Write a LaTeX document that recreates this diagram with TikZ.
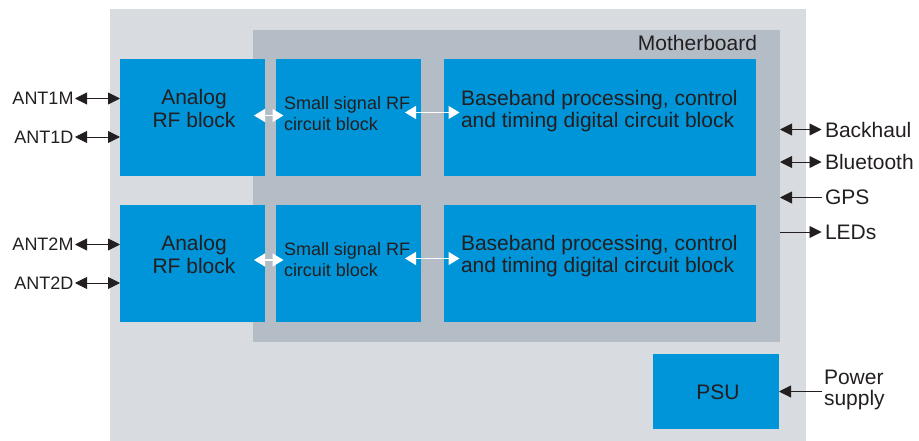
\documentclass[tikz,border=0pt]{standalone}
\usepackage{fontspec}
\setmainfont{Liberation Sans}
\usetikzlibrary{arrows.meta}
\definecolor{outerg}{RGB}{216,220,224}
\definecolor{mbg}{RGB}{180,189,198}
\definecolor{blk}{RGB}{0,148,216}
\definecolor{ink}{RGB}{35,31,32}
\newcommand{\twoL}[3]{\begin{tabular}[t]{@{}#1@{}}#2\\#3\end{tabular}}
\tikzset{
  panel/.style={draw=none, inner sep=0, outer sep=0, anchor=north west},
  blockbox/.style={panel, fill=blk},
  txt/.style={inner sep=0, outer sep=0, text=ink},
  lbl/.style={txt, font=\fontsize{18}{21}\selectfont},
  rlbl/.style={txt, font=\fontsize{21}{22}\selectfont},
  tip/.tip={Triangle[length=12pt,width=12pt]},
  wtip/.tip={Triangle[length=11pt,width=13pt]},
  bi/.style={draw=ink, line width=0.9pt, tip-tip},
  la/.style={draw=ink, line width=0.9pt, tip-},
  ra/.style={draw=ink, line width=0.9pt, -tip},
  wa/.style={draw=white, line width=1.3pt, wtip-wtip}
}
\begin{document}
\begin{tikzpicture}[x=1pt,y=-1pt]
\useasboundingbox (0,0) rectangle (919,441);
% panels
\node[panel, fill=outerg, minimum width=696pt, minimum height=432pt] (outer) at (110,9) {};
\node[panel, fill=mbg, minimum width=527pt, minimum height=312pt] (mb) at (253,30) {};
\node[txt, anchor=base east, font=\fontsize{21}{22}\selectfont] (mbl) at (757,50.5) {Motherboard};
% blocks row 1
\node[blockbox, minimum width=145pt, minimum height=117pt] (a1) at (120,59) {};
\node[blockbox, minimum width=145pt, minimum height=117pt] (s1) at (276,59) {};
\node[blockbox, minimum width=312pt, minimum height=117pt] (b1) at (444,59) {};
% blocks row 2
\node[blockbox, minimum width=145pt, minimum height=117pt] (a2) at (120,205) {};
\node[blockbox, minimum width=145pt, minimum height=117pt] (s2) at (276,205) {};
\node[blockbox, minimum width=312pt, minimum height=117pt] (b2) at (444,205) {};
% PSU
\node[blockbox, minimum width=126pt, minimum height=75pt] (psu) at (653,354) {};
% block texts
\node[txt, anchor=base, font=\fontsize{21}{23}\selectfont] (a1t) at (194,104.3) {\twoL{c}{Analog}{RF block}};
\node[txt, anchor=base west, font=\fontsize{18}{21}\selectfont] (s1t) at (284,110) {\twoL{l}{Small signal RF}{circuit block}};
\node[txt, anchor=base west, font=\fontsize{21}{22}\selectfont] (b1t) at (461,106) {\twoL{l}{Baseband processing, control}{and timing digital circuit block}};
\node[txt, anchor=base, font=\fontsize{21}{23}\selectfont] (a2t) at (194,250.5) {\twoL{c}{Analog}{RF block}};
\node[txt, anchor=base west, font=\fontsize{18}{21}\selectfont] (s2t) at (284,255) {\twoL{l}{Small signal RF}{circuit block}};
\node[txt, anchor=base west, font=\fontsize{21}{22}\selectfont] (b2t) at (461,251) {\twoL{l}{Baseband processing, control}{and timing digital circuit block}};
\node[txt, anchor=base, font=\fontsize{21}{22}\selectfont] (psut) at (718,399.3) {PSU};
% white inner arrows
\draw[wa] ([shift={(-11,-2)}]a1.east) -- ([shift={(7.5,-2)}]s1.west);
\draw[wa] ([shift={(-16,-5)}]s1.east) -- ([shift={(15.5,-5)}]b1.west);
\draw[wa] ([shift={(-11,-3.5)}]a2.east) -- ([shift={(7.5,-3.5)}]s2.west);
\draw[wa] ([shift={(-16,-5)}]s2.east) -- ([shift={(15.5,-5)}]b2.west);
% left labels
\node[lbl, anchor=east] (ant1m) at (73.5,98.5) {ANT1M};
\node[lbl, anchor=east] (ant1d) at (73.5,137) {ANT1D};
\node[lbl, anchor=east] (ant2m) at (73.5,244.5) {ANT2M};
\node[lbl, anchor=east] (ant2d) at (73.5,283) {ANT2D};
\draw[bi] ([xshift=1.5pt]ant1m.east) -- (ant1m.east -| a1.west);
\draw[bi] ([xshift=1.5pt]ant1d.east) -- (ant1d.east -| a1.west);
\draw[bi] ([xshift=1.5pt]ant2m.east) -- (ant2m.east -| a2.west);
\draw[bi] ([xshift=1.5pt]ant2d.east) -- (ant2d.east -| a2.west);
% right labels
\node[rlbl, anchor=west] (bh) at (825,129.5) {Backhaul};
\node[rlbl, anchor=west] (bt) at (825,162) {Bluetooth};
\node[rlbl, anchor=west] (gps) at (825,197.5) {GPS};
\node[rlbl, anchor=west] (led) at (825,232) {LEDs};
\draw[bi] (bh.west -| mb.east) -- ([xshift=-3.5pt]bh.west);
\draw[bi] (bt.west -| mb.east) -- ([xshift=-3.5pt]bt.west);
\draw[la] (gps.west -| mb.east) -- ([xshift=-3.5pt]gps.west);
\draw[ra] (led.west -| mb.east) -- ([xshift=-3.5pt]led.west);
% power supply
\node[txt, anchor=base west, font=\fontsize{21}{20}\selectfont] (ps) at (824,384) {\twoL{l}{Power}{supply}};
\coordinate (psin) at (822,391.5);
\draw[la] (psu.east) -- (psin);
\end{tikzpicture}
\end{document}
